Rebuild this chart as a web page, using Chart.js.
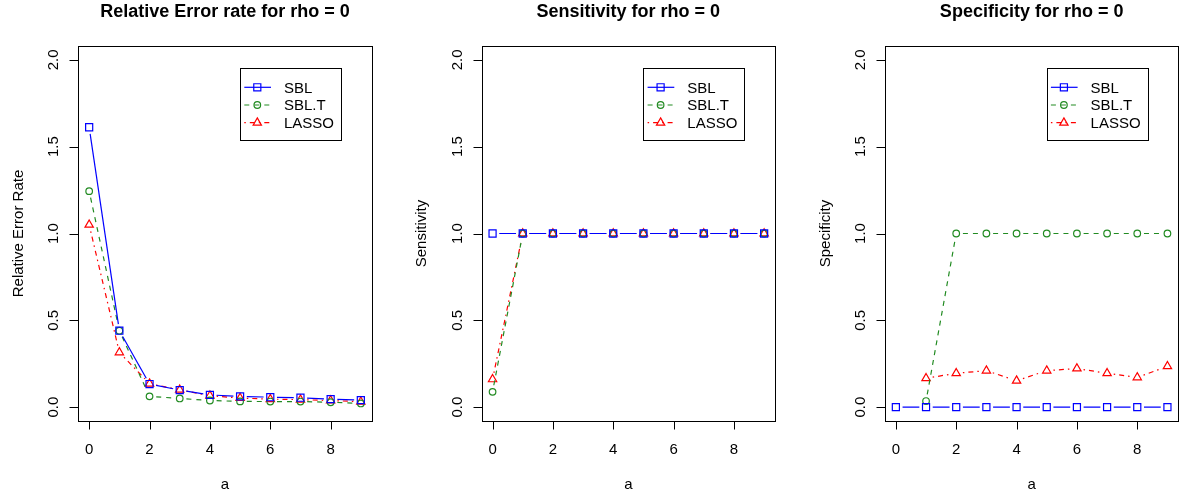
<!DOCTYPE html>
<html>
<head>
<meta charset="utf-8">
<script src="https://cdn.jsdelivr.net/npm/chart.js@4.4.1/dist/chart.umd.min.js"></script>
<style>
html, body { margin: 0; padding: 0; background: #fff; }
#wrap { position: relative; width: 1189px; height: 496px; overflow: hidden; }
#wrap canvas { position: absolute; left: 0; top: 0; }
</style>
</head>
<body>
<div id="wrap">
  <canvas id="c1" width="1189" height="496"></canvas>
  <canvas id="c2" width="1189" height="496"></canvas>
  <canvas id="c3" width="1189" height="496"></canvas>
</div>
<script>
// valeurs
const aValues = [0, 1, 2, 3, 4, 5, 6, 7, 8, 9];
const xTicks = [0, 2, 4, 6, 8];
const yTicks = [0, 0.5, 1, 1.5, 2];
const yTickLabels = ['0.0', '0.5', '1.0', '1.5', '2.0'];
const seriesNames = ['SBL', 'SBL.T', 'LASSO'];

const errSBL   = [1.612, 0.44, 0.133, 0.098, 0.070, 0.062, 0.057, 0.054, 0.046, 0.040];
const errSBLT  = [1.244, 0.44, 0.062, 0.050, 0.038, 0.033, 0.032, 0.032, 0.028, 0.021];
const errLASSO = [1.050, 0.315, 0.135, 0.100, 0.066, 0.052, 0.046, 0.043, 0.038, 0.031];

const sensSBL   = [1, 1, 1, 1, 1, 1, 1, 1, 1, 1];
const sensSBLT  = [0.088, 1, 1, 1, 1, 1, 1, 1, 1, 1];
const sensLASSO = [0.160, 1, 1, 1, 1, 1, 1, 1, 1, 1];

const specSBL   = [0, 0, 0, 0, 0, 0, 0, 0, 0, 0];
const specSBLT  = [null, 0.035, 1, 1, 1, 1, 1, 1, 1, 1];
const specLASSO = [null, 0.166, 0.195, 0.210, 0.152, 0.210, 0.222, 0.195, 0.171, 0.235];

const colors = ['#0000ff', '#228b22', '#ff0000'];
const dashes = [[], [5, 5], [1.5, 4, 5, 4]];
const markers = ['rect', 'circle', 'triangle'];
const markerRadius = [5, 3.3, 4.8];
const GAP = 6.7; // espace autour des points (type = "b")

const FONT = '"Liberation Sans", Arial, Helvetica, sans-serif';

const panels = [
  { id: 'c1', title: 'Relative Error rate for rho = 0', ylab: 'Relative Error Rate',
    left: 78.3, right: 371.7, series: [errSBL, errSBLT, errLASSO] },
  { id: 'c2', title: 'Sensitivity for rho = 0', ylab: 'Sensitivity',
    left: 481.7, right: 775, series: [sensSBL, sensSBLT, sensLASSO] },
  { id: 'c3', title: 'Specificity for rho = 0', ylab: 'Specificity',
    left: 885, right: 1178.3, series: [specSBL, specSBLT, specLASSO] }
];

// motif de tirets d'un segment, avec un blanc à chaque bout
function gapDash(pattern) {
  return ctx => {
    const L = Math.hypot(ctx.p1.x - ctx.p0.x, ctx.p1.y - ctx.p0.y);
    if (L <= 2 * GAP) return [0, L + 1000];
    const inner = L - 2 * GAP;
    const arr = [0, GAP];
    if (!pattern.length) {
      arr.push(inner, GAP + 1000);
      return arr;
    }
    let used = 0, k = 0;
    while (used < inner - 1e-6) {
      const s = Math.min(pattern[k % pattern.length], inner - used);
      arr.push(s);
      used += s;
      k++;
    }
    if (k % 2 === 1) arr.push(GAP + 1000);
    else arr.push(0, GAP + 1000);
    return arr;
  };
}

// axes, titre et légende à la manière de R
const rStyle = {
  id: 'rStyle',
  afterDraw(chart, args, opts) {
    const ctx = chart.ctx;
    const a = chart.chartArea;
    const sx = chart.scales.x;
    const sy = chart.scales.y;
    const cx = (a.left + a.right) / 2;
    ctx.save();
    ctx.strokeStyle = '#000';
    ctx.fillStyle = '#000';
    ctx.lineWidth = 1;

    // cadre
    ctx.strokeRect(Math.round(a.left) + 0.5, Math.round(a.top) + 0.5,
      Math.round(a.right) - Math.round(a.left), Math.round(a.bottom) - Math.round(a.top));

    // axe x
    const yb = Math.round(a.bottom) + 0.5;
    ctx.beginPath();
    xTicks.forEach(t => {
      const px = Math.round(sx.getPixelForValue(t)) + 0.5;
      ctx.moveTo(px, yb);
      ctx.lineTo(px, yb + 8);
    });
    ctx.stroke();
    ctx.font = '15px ' + FONT;
    ctx.textAlign = 'center';
    ctx.textBaseline = 'alphabetic';
    xTicks.forEach(t => ctx.fillText(String(t), sx.getPixelForValue(t), a.bottom + 33));

    // axe y
    const xl = Math.round(a.left) + 0.5;
    ctx.beginPath();
    yTicks.forEach(t => {
      const py = Math.round(sy.getPixelForValue(t)) + 0.5;
      ctx.moveTo(xl, py);
      ctx.lineTo(xl - 9, py);
    });
    ctx.stroke();
    yTicks.forEach((t, i) => {
      ctx.save();
      ctx.translate(a.left - 20, sy.getPixelForValue(t));
      ctx.rotate(-Math.PI / 2);
      ctx.fillText(yTickLabels[i], 0, 0);
      ctx.restore();
    });

    // titres
    ctx.fillText('a', cx, 488.5);
    ctx.save();
    ctx.translate(a.left - 55.5, (a.top + a.bottom) / 2);
    ctx.rotate(-Math.PI / 2);
    ctx.fillText(opts.ylab, 0, 0);
    ctx.restore();
    ctx.font = 'bold 18px ' + FONT;
    ctx.fillText(opts.title, cx, 17);

    // légende
    const lr = a.right - 31;
    const ll = lr - 100.7;
    const lt = 68.3;
    ctx.strokeRect(Math.round(ll) + 0.5, Math.round(lt) + 0.5, Math.round(lr - ll), 72);
    ctx.font = '15px ' + FONT;
    ctx.textAlign = 'left';
    seriesNames.forEach((name, i) => {
      const ey = lt + 19 + i * 17.7;
      ctx.save();
      ctx.strokeStyle = colors[i];
      ctx.lineWidth = 1.2;
      ctx.setLineDash(dashes[i]);
      ctx.beginPath();
      ctx.moveTo(ll + 4.3, ey);
      ctx.lineTo(ll + 31, ey);
      ctx.stroke();
      ctx.setLineDash([]);
      ctx.fillStyle = 'rgba(0,0,0,0)';
      Chart.helpers.drawPoint(ctx, { pointStyle: markers[i], radius: markerRadius[i], rotation: 0, borderWidth: 1.2 }, ll + 17.3, ey);
      ctx.restore();
      ctx.fillText(name, ll + 44, ey + 5.3);
    });
    ctx.restore();
  }
};

panels.forEach(p => {
  const datasets = p.series.map((vals, i) => ({
    label: seriesNames[i],
    data: aValues.map((a, k) => ({ x: a, y: vals[k] })),
    borderColor: colors[i],
    backgroundColor: 'rgba(0,0,0,0)',
    borderWidth: 1.2,
    pointStyle: markers[i],
    pointRadius: markerRadius[i],
    pointBorderWidth: 1.2,
    pointBorderColor: colors[i],
    pointBackgroundColor: 'rgba(0,0,0,0)',
    tension: 0,
    spanGaps: false,
    segment: {
      borderDash: gapDash(dashes[i]),
      borderDashOffset: ctx => ctx.p0DataIndex * 1e-6
    }
  }));

  new Chart(document.getElementById(p.id).getContext('2d'), {
    type: 'line',
    data: { datasets: datasets },
    options: {
      responsive: false,
      animation: false,
      devicePixelRatio: 1,
      events: [],
      layout: {
        padding: { left: p.left, right: 1189 - p.right, top: 46, bottom: 75 }
      },
      scales: {
        x: { type: 'linear', min: -0.36, max: 9.36, display: false },
        y: { type: 'linear', min: -0.08, max: 2.08, display: false }
      },
      plugins: {
        legend: { display: false },
        title: { display: false },
        tooltip: { enabled: false },
        rStyle: { title: p.title, ylab: p.ylab }
      }
    },
    plugins: [rStyle]
  });
});
</script>
</body>
</html>
